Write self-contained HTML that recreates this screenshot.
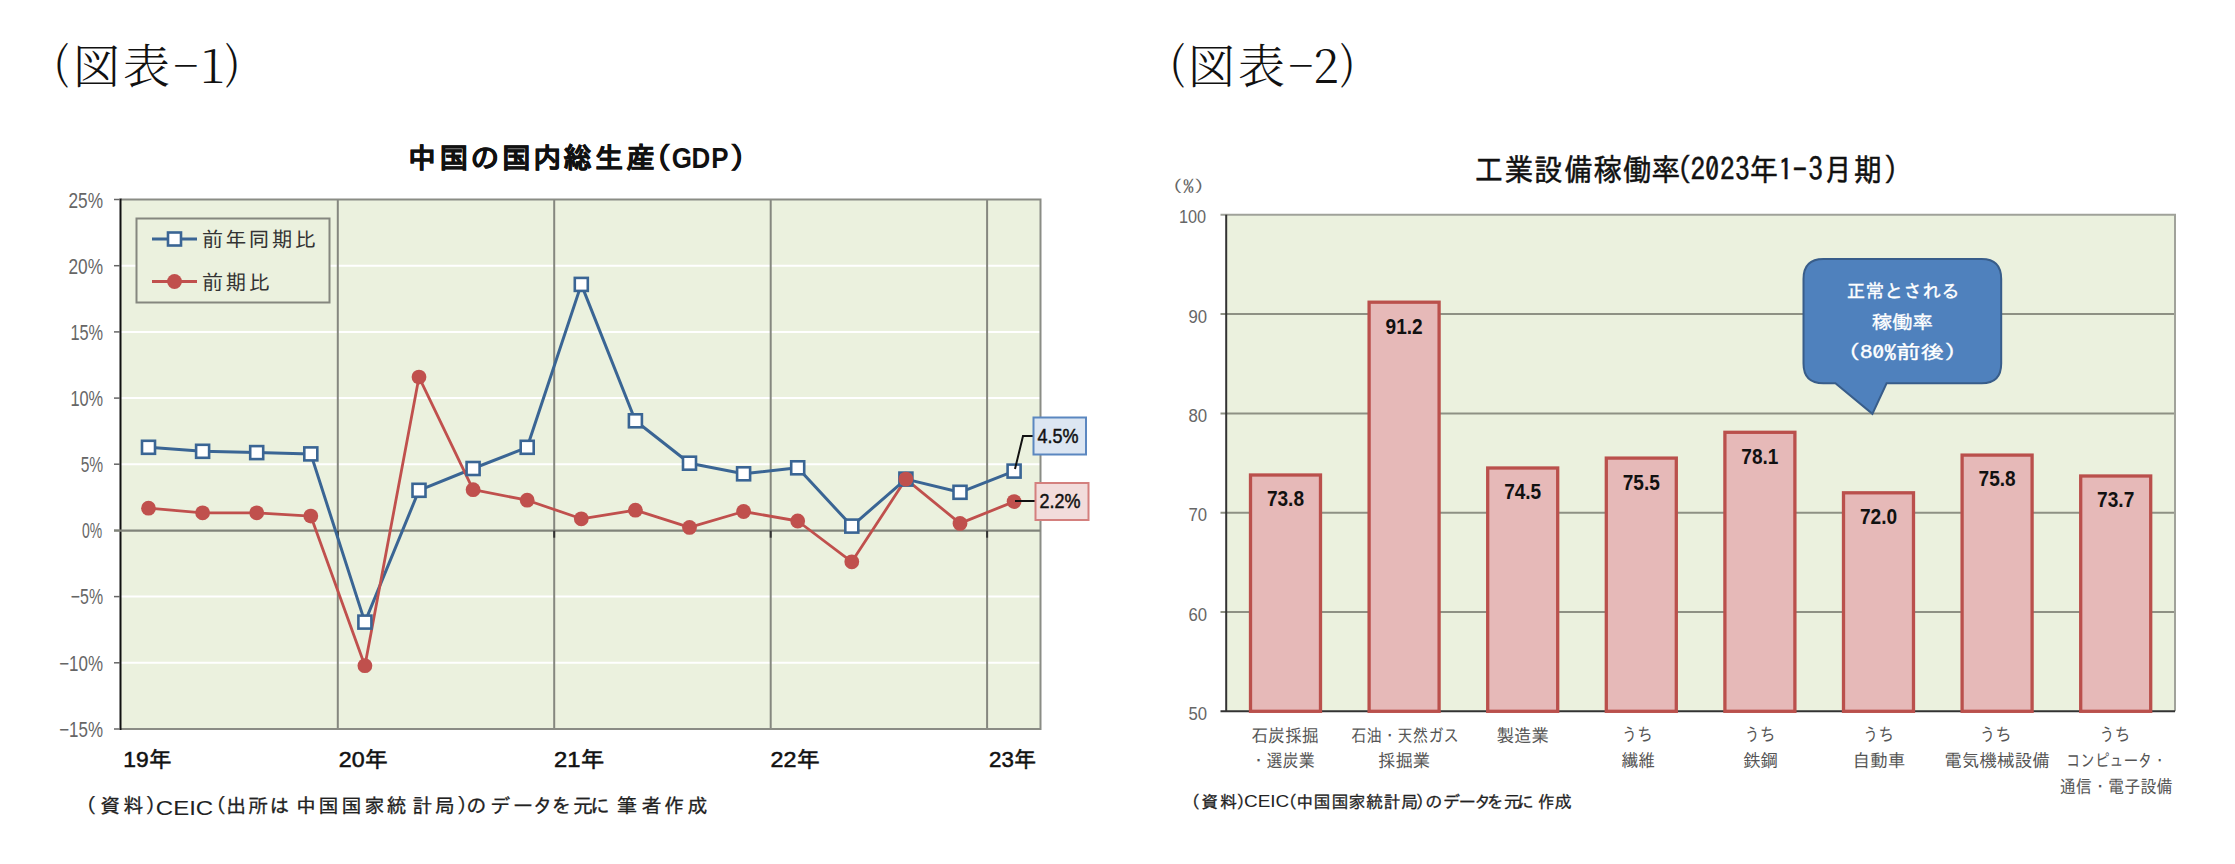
<!DOCTYPE html>
<html><head><meta charset="utf-8"><title>図表</title>
<style>html,body{margin:0;padding:0;background:#fff;}svg{display:block;}</style></head>
<body><svg width="2235" height="864" viewBox="0 0 2235 864" font-family="IPAGothic,'Noto Sans CJK JP',sans-serif">
<rect width="2235" height="864" fill="#fff"/>
<text x="53.6" y="78.4" font-family="'Noto Serif CJK JP','Noto Serif CJK SC',serif" font-size="43.4" font-weight="300" fill="#111" >(</text>
<text x="73.0 123.1" y="83" font-family="'Noto Serif CJK JP','Noto Serif CJK SC',serif" font-size="47" font-weight="300" fill="#111" >図表</text>
<text x="173.4" y="81.3" font-family="'Noto Serif CJK JP','Noto Serif CJK SC',serif" font-size="43" font-weight="300" fill="#111" >−</text>
<text x="200.0" y="83.3" font-family="'Noto Serif CJK JP','Noto Serif CJK SC',serif" font-size="46.7" font-weight="300" fill="#111" >1</text>
<text x="224.9" y="78.4" font-family="'Noto Serif CJK JP','Noto Serif CJK SC',serif" font-size="43.4" font-weight="300" fill="#111" >)</text>
<text x="1169.5" y="78.4" font-family="'Noto Serif CJK JP','Noto Serif CJK SC',serif" font-size="43.4" font-weight="300" fill="#111" >(</text>
<text x="1188.0 1238.1" y="83" font-family="'Noto Serif CJK JP','Noto Serif CJK SC',serif" font-size="47" font-weight="300" fill="#111" >図表</text>
<text x="1288.4" y="81.3" font-family="'Noto Serif CJK JP','Noto Serif CJK SC',serif" font-size="43" font-weight="300" fill="#111" >−</text>
<text x="1313.5" y="83.3" font-family="'Noto Serif CJK JP','Noto Serif CJK SC',serif" font-size="47" font-weight="300" fill="#111" >2</text>
<text x="1339.9" y="78.4" font-family="'Noto Serif CJK JP','Noto Serif CJK SC',serif" font-size="43.4" font-weight="300" fill="#111" >)</text>
<rect x="121.0" y="199.5" width="919.5" height="529.5" fill="#EBF1DE"/>
<line x1="121.0" y1="265.7" x2="1040.5" y2="265.7" stroke="#fff" stroke-width="2"/>
<line x1="121.0" y1="331.9" x2="1040.5" y2="331.9" stroke="#fff" stroke-width="2"/>
<line x1="121.0" y1="398.1" x2="1040.5" y2="398.1" stroke="#fff" stroke-width="2"/>
<line x1="121.0" y1="464.2" x2="1040.5" y2="464.2" stroke="#fff" stroke-width="2"/>
<line x1="121.0" y1="596.6" x2="1040.5" y2="596.6" stroke="#fff" stroke-width="2"/>
<line x1="121.0" y1="662.8" x2="1040.5" y2="662.8" stroke="#fff" stroke-width="2"/>
<line x1="337.8" y1="199.5" x2="337.8" y2="729.0" stroke="#85877f" stroke-width="2"/>
<line x1="554.2" y1="199.5" x2="554.2" y2="729.0" stroke="#85877f" stroke-width="2"/>
<line x1="770.7" y1="199.5" x2="770.7" y2="729.0" stroke="#85877f" stroke-width="2"/>
<line x1="987.1" y1="199.5" x2="987.1" y2="729.0" stroke="#85877f" stroke-width="2"/>
<path d="M121.0 199.5H1040.5V729.0H121.0" fill="none" stroke="#8a8c85" stroke-width="2"/>
<line x1="120.5" y1="198.5" x2="120.5" y2="730.0" stroke="#111" stroke-width="2"/>
<line x1="114" y1="199.5" x2="120" y2="199.5" stroke="#666" stroke-width="1.5"/>
<line x1="114" y1="265.7" x2="120" y2="265.7" stroke="#666" stroke-width="1.5"/>
<line x1="114" y1="331.9" x2="120" y2="331.9" stroke="#666" stroke-width="1.5"/>
<line x1="114" y1="398.1" x2="120" y2="398.1" stroke="#666" stroke-width="1.5"/>
<line x1="114" y1="464.2" x2="120" y2="464.2" stroke="#666" stroke-width="1.5"/>
<line x1="114" y1="530.4" x2="120" y2="530.4" stroke="#666" stroke-width="1.5"/>
<line x1="114" y1="596.6" x2="120" y2="596.6" stroke="#666" stroke-width="1.5"/>
<line x1="114" y1="662.8" x2="120" y2="662.8" stroke="#666" stroke-width="1.5"/>
<line x1="114" y1="729.0" x2="120" y2="729.0" stroke="#666" stroke-width="1.5"/>
<line x1="114" y1="530.7" x2="1040.5" y2="530.7" stroke="#80837a" stroke-width="2.2"/>
<line x1="337.8" y1="530.7" x2="337.8" y2="537.7" stroke="#333" stroke-width="2"/>
<line x1="554.2" y1="530.7" x2="554.2" y2="537.7" stroke="#333" stroke-width="2"/>
<line x1="770.7" y1="530.7" x2="770.7" y2="537.7" stroke="#333" stroke-width="2"/>
<line x1="987.1" y1="530.7" x2="987.1" y2="537.7" stroke="#333" stroke-width="2"/>
<text x="103.03" y="207.50" font-size="22" fill="#666" text-anchor="end" font-family="'Liberation Sans',IPAGothic,sans-serif" textLength="34.52" lengthAdjust="spacingAndGlyphs" >25%</text>
<text x="103.03" y="273.51" font-size="22" fill="#666" text-anchor="end" font-family="'Liberation Sans',IPAGothic,sans-serif" textLength="34.52" lengthAdjust="spacingAndGlyphs" >20%</text>
<text x="103.12" y="339.53" font-size="22" fill="#666" text-anchor="end" font-family="'Liberation Sans',IPAGothic,sans-serif" textLength="32.74" lengthAdjust="spacingAndGlyphs" >15%</text>
<text x="103.12" y="406.24" font-size="22" fill="#666" text-anchor="end" font-family="'Liberation Sans',IPAGothic,sans-serif" textLength="32.74" lengthAdjust="spacingAndGlyphs" >10%</text>
<text x="103.12" y="472.25" font-size="22" fill="#666" text-anchor="end" font-family="'Liberation Sans',IPAGothic,sans-serif" textLength="22.48" lengthAdjust="spacingAndGlyphs" >5%</text>
<text x="102.13" y="538.26" font-size="22" fill="#666" text-anchor="end" font-family="'Liberation Sans',IPAGothic,sans-serif" textLength="20.15" lengthAdjust="spacingAndGlyphs" >0%</text>
<text x="103.05" y="604.27" font-size="22" fill="#666" text-anchor="end" font-family="'Liberation Sans',IPAGothic,sans-serif" textLength="32.25" lengthAdjust="spacingAndGlyphs" >−5%</text>
<text x="103.05" y="670.99" font-size="22" fill="#666" text-anchor="end" font-family="'Liberation Sans',IPAGothic,sans-serif" textLength="43.82" lengthAdjust="spacingAndGlyphs" >−10%</text>
<text x="103.05" y="737.00" font-size="22" fill="#666" text-anchor="end" font-family="'Liberation Sans',IPAGothic,sans-serif" textLength="43.82" lengthAdjust="spacingAndGlyphs" >−15%</text>
<polyline points="148.5,447.3 202.6,451.3 256.7,452.6 310.8,453.9 364.9,622.1 419.0,490.3 473.1,468.5 527.2,447.3 581.3,284.4 635.4,420.8 689.5,463.2 743.6,473.8 797.7,467.8 851.8,526.1 905.9,479.1 960.0,492.3 1014.1,471.1" fill="none" stroke="#3A6594" stroke-width="3" stroke-linejoin="round"/>
<polyline points="148.5,508.2 202.6,512.8 256.7,512.8 310.8,516.1 364.9,665.7 419.0,377.1 473.1,489.7 527.2,500.2 581.3,518.8 635.4,510.2 689.5,527.4 743.6,511.5 797.7,521.0 851.8,561.8 905.9,479.1 960.0,523.4 1014.1,501.6" fill="none" stroke="#C0504D" stroke-width="2.8" stroke-linejoin="round"/>
<rect x="142.0" y="440.8" width="13" height="13" fill="#fff" stroke="#3A6594" stroke-width="2.6"/>
<rect x="196.1" y="444.8" width="13" height="13" fill="#fff" stroke="#3A6594" stroke-width="2.6"/>
<rect x="250.2" y="446.1" width="13" height="13" fill="#fff" stroke="#3A6594" stroke-width="2.6"/>
<rect x="304.3" y="447.4" width="13" height="13" fill="#fff" stroke="#3A6594" stroke-width="2.6"/>
<rect x="358.4" y="615.6" width="13" height="13" fill="#fff" stroke="#3A6594" stroke-width="2.6"/>
<rect x="412.5" y="483.8" width="13" height="13" fill="#fff" stroke="#3A6594" stroke-width="2.6"/>
<rect x="466.6" y="462.0" width="13" height="13" fill="#fff" stroke="#3A6594" stroke-width="2.6"/>
<rect x="520.7" y="440.8" width="13" height="13" fill="#fff" stroke="#3A6594" stroke-width="2.6"/>
<rect x="574.8" y="277.9" width="13" height="13" fill="#fff" stroke="#3A6594" stroke-width="2.6"/>
<rect x="628.9" y="414.3" width="13" height="13" fill="#fff" stroke="#3A6594" stroke-width="2.6"/>
<rect x="683.0" y="456.7" width="13" height="13" fill="#fff" stroke="#3A6594" stroke-width="2.6"/>
<rect x="737.1" y="467.3" width="13" height="13" fill="#fff" stroke="#3A6594" stroke-width="2.6"/>
<rect x="791.2" y="461.3" width="13" height="13" fill="#fff" stroke="#3A6594" stroke-width="2.6"/>
<rect x="845.3" y="519.6" width="13" height="13" fill="#fff" stroke="#3A6594" stroke-width="2.6"/>
<rect x="899.4" y="472.6" width="13" height="13" fill="#fff" stroke="#3A6594" stroke-width="2.6"/>
<rect x="953.5" y="485.8" width="13" height="13" fill="#fff" stroke="#3A6594" stroke-width="2.6"/>
<rect x="1007.6" y="464.6" width="13" height="13" fill="#fff" stroke="#3A6594" stroke-width="2.6"/>
<circle cx="148.5" cy="508.2" r="7.4" fill="#C0504D"/>
<circle cx="202.6" cy="512.8" r="7.4" fill="#C0504D"/>
<circle cx="256.7" cy="512.8" r="7.4" fill="#C0504D"/>
<circle cx="310.8" cy="516.1" r="7.4" fill="#C0504D"/>
<circle cx="364.9" cy="665.7" r="7.4" fill="#C0504D"/>
<circle cx="419.0" cy="377.1" r="7.4" fill="#C0504D"/>
<circle cx="473.1" cy="489.7" r="7.4" fill="#C0504D"/>
<circle cx="527.2" cy="500.2" r="7.4" fill="#C0504D"/>
<circle cx="581.3" cy="518.8" r="7.4" fill="#C0504D"/>
<circle cx="635.4" cy="510.2" r="7.4" fill="#C0504D"/>
<circle cx="689.5" cy="527.4" r="7.4" fill="#C0504D"/>
<circle cx="743.6" cy="511.5" r="7.4" fill="#C0504D"/>
<circle cx="797.7" cy="521.0" r="7.4" fill="#C0504D"/>
<circle cx="851.8" cy="561.8" r="7.4" fill="#C0504D"/>
<circle cx="905.9" cy="479.1" r="7.4" fill="#C0504D"/>
<circle cx="960.0" cy="523.4" r="7.4" fill="#C0504D"/>
<circle cx="1014.1" cy="501.6" r="7.4" fill="#C0504D"/>
<rect x="136.5" y="218.5" width="193" height="84" fill="#EBF1DE" stroke="#85877f" stroke-width="2"/>
<line x1="152" y1="239" x2="197" y2="239" stroke="#3A6594" stroke-width="3"/>
<rect x="168" y="232.5" width="13" height="13" fill="#fff" stroke="#3A6594" stroke-width="2.6"/>
<line x1="152" y1="281.5" x2="197" y2="281.5" stroke="#C0504D" stroke-width="2.8"/>
<circle cx="174.5" cy="281.5" r="7.4" fill="#C0504D"/>
<text x="201.99" y="247.30" font-size="21" fill="#333" textLength="114.03" lengthAdjust="spacing" >前年同期比</text>
<text x="201.97" y="289.80" font-size="21" fill="#333" textLength="68.06" lengthAdjust="spacing" >前期比</text>
<path d="M1015 469 L1023 436 H1033" fill="none" stroke="#111" stroke-width="2"/>
<rect x="1033.5" y="417.5" width="52.5" height="37" fill="#DCE6F2" stroke="#5B87C0" stroke-width="2"/>
<text x="1037.51" y="442.80" font-size="21" fill="#111" font-family="'Liberation Sans',IPAGothic,sans-serif" textLength="41.02" lengthAdjust="spacingAndGlyphs" stroke="#111" stroke-width="0.5">4.5%</text>
<line x1="1015" y1="501" x2="1035" y2="501" stroke="#111" stroke-width="2"/>
<rect x="1035.5" y="483" width="53" height="37" fill="#F2DCDB" stroke="#D4807E" stroke-width="2"/>
<text x="1039.51" y="508.30" font-size="21" fill="#111" font-family="'Liberation Sans',IPAGothic,sans-serif" textLength="41.02" lengthAdjust="spacingAndGlyphs" stroke="#111" stroke-width="0.5">2.2%</text>
<text x="123.36" y="767.00" font-size="22" fill="#111" font-family="'Liberation Sans',IPAGothic,sans-serif" textLength="48.16" lengthAdjust="spacingAndGlyphs" stroke="#111" stroke-width="0.5">19年</text>
<text x="338.75" y="767.00" font-size="22" fill="#111" font-family="'Liberation Sans',IPAGothic,sans-serif" textLength="49.14" lengthAdjust="spacingAndGlyphs" stroke="#111" stroke-width="0.5">20年</text>
<text x="554.14" y="767.00" font-size="22" fill="#111" font-family="'Liberation Sans',IPAGothic,sans-serif" textLength="50.17" lengthAdjust="spacingAndGlyphs" stroke="#111" stroke-width="0.5">21年</text>
<text x="770.54" y="767.00" font-size="22" fill="#111" font-family="'Liberation Sans',IPAGothic,sans-serif" textLength="49.14" lengthAdjust="spacingAndGlyphs" stroke="#111" stroke-width="0.5">22年</text>
<text x="988.99" y="767.00" font-size="22" fill="#111" font-family="'Liberation Sans',IPAGothic,sans-serif" textLength="47.13" lengthAdjust="spacingAndGlyphs" stroke="#111" stroke-width="0.5">23年</text>
<text x="407.6 439.5 470.5 501.9 533.2 563.3 595.1 626.3 642.2" y="167.9" font-family="IPAGothic,'Noto Sans CJK JP',sans-serif" font-size="28.5" font-weight="bold" fill="#111" stroke="#111" stroke-width="0.4">中国の国内総生産（</text>
<text x="763.4 785.8 808.3" y="168.3" font-family="'Liberation Sans',IPAGothic,sans-serif" font-size="29.5" font-weight="bold" fill="#111" transform="scale(0.88 1)" >GDP</text>
<text x="730.5" y="167.9" font-family="IPAGothic,'Noto Sans CJK JP',sans-serif" font-size="28.5" font-weight="bold" fill="#111" stroke="#111" stroke-width="0.4">）</text>
<text x="76.3 100.2 123.4 145.6" y="813.3" font-family="IPAGothic,'Noto Sans CJK JP',sans-serif" font-size="20" fill="#222" stroke="#222" stroke-width="0.3">（資料）</text>
<text x="155.77" y="814.70" font-size="19.5" fill="#222" font-family="'Liberation Sans',IPAGothic,sans-serif" textLength="57.46" lengthAdjust="spacingAndGlyphs" >CEIC</text>
<text x="205.9 225.9 248.0 269.6 296.1 318.5 341.5 364.4 386.8 412.3 434.8 457.0 466.3 490.2 513.1 532.7 551.2 573.3 590.0 617.1 641.5 664.1 687.5" y="813.3" font-family="IPAGothic,'Noto Sans CJK JP',sans-serif" font-size="20" fill="#222" stroke="#222" stroke-width="0.3">（出所は中国国家統計局）のデータを元に筆者作成</text>
<rect x="1226.2" y="214.8" width="948.8" height="496.49999999999994" fill="#EBF1DE"/>
<line x1="1220.5" y1="612.0" x2="2175.0" y2="612.0" stroke="#8e9184" stroke-width="2"/>
<line x1="1220.5" y1="512.7" x2="2175.0" y2="512.7" stroke="#8e9184" stroke-width="2"/>
<line x1="1220.5" y1="413.4" x2="2175.0" y2="413.4" stroke="#8e9184" stroke-width="2"/>
<line x1="1220.5" y1="314.1" x2="2175.0" y2="314.1" stroke="#8e9184" stroke-width="2"/>
<path d="M1220.5 214.8 H2175.0 V711.3" fill="none" stroke="#a0a29a" stroke-width="2"/>
<line x1="1226.2" y1="214.8" x2="1226.2" y2="711.3" stroke="#333" stroke-width="2"/>
<line x1="1220.5" y1="711.3" x2="2175.0" y2="711.3" stroke="#333" stroke-width="2"/>
<text x="1207.06" y="719.80" font-size="18" fill="#666" text-anchor="end" font-family="'Liberation Sans',IPAGothic,sans-serif" textLength="18.59" lengthAdjust="spacingAndGlyphs" >50</text>
<text x="1207.06" y="620.50" font-size="18" fill="#666" text-anchor="end" font-family="'Liberation Sans',IPAGothic,sans-serif" textLength="18.59" lengthAdjust="spacingAndGlyphs" >60</text>
<text x="1207.06" y="520.50" font-size="18" fill="#666" text-anchor="end" font-family="'Liberation Sans',IPAGothic,sans-serif" textLength="18.59" lengthAdjust="spacingAndGlyphs" >70</text>
<text x="1207.15" y="421.90" font-size="18" fill="#666" text-anchor="end" font-family="'Liberation Sans',IPAGothic,sans-serif" textLength="18.72" lengthAdjust="spacingAndGlyphs" >80</text>
<text x="1207.06" y="322.60" font-size="18" fill="#666" text-anchor="end" font-family="'Liberation Sans',IPAGothic,sans-serif" textLength="18.59" lengthAdjust="spacingAndGlyphs" >90</text>
<text x="1206.06" y="223.30" font-size="18" fill="#666" text-anchor="end" font-family="'Liberation Sans',IPAGothic,sans-serif" textLength="27.18" lengthAdjust="spacingAndGlyphs" >100</text>
<text x="1172.14" y="191.80" font-size="16" fill="#666" textLength="32.62" lengthAdjust="spacingAndGlyphs" >(%)</text>
<rect x="1250.5" y="475.0" width="70" height="236.3" fill="#E6B9B8" stroke="#BA504C" stroke-width="3.3"/>
<text x="1285.48" y="506.22" font-size="22" fill="#111" text-anchor="middle" font-weight="bold" font-family="'Liberation Sans',IPAGothic,sans-serif" textLength="37.15" lengthAdjust="spacingAndGlyphs" >73.8</text>
<rect x="1369.1" y="302.2" width="70" height="409.1" fill="#E6B9B8" stroke="#BA504C" stroke-width="3.3"/>
<text x="1404.11" y="333.68" font-size="22" fill="#111" text-anchor="middle" font-weight="bold" font-family="'Liberation Sans',IPAGothic,sans-serif" textLength="37.07" lengthAdjust="spacingAndGlyphs" >91.2</text>
<rect x="1487.7" y="468.0" width="70" height="243.3" fill="#E6B9B8" stroke="#BA504C" stroke-width="3.3"/>
<text x="1522.68" y="499.25" font-size="22" fill="#111" text-anchor="middle" font-weight="bold" font-family="'Liberation Sans',IPAGothic,sans-serif" textLength="37.07" lengthAdjust="spacingAndGlyphs" >74.5</text>
<rect x="1606.3" y="458.1" width="70" height="253.2" fill="#E6B9B8" stroke="#BA504C" stroke-width="3.3"/>
<text x="1641.32" y="489.60" font-size="22" fill="#111" text-anchor="middle" font-weight="bold" font-family="'Liberation Sans',IPAGothic,sans-serif" textLength="37.07" lengthAdjust="spacingAndGlyphs" >75.5</text>
<rect x="1724.9" y="432.3" width="70" height="279.0" fill="#E6B9B8" stroke="#BA504C" stroke-width="3.3"/>
<text x="1759.87" y="463.53" font-size="22" fill="#111" text-anchor="middle" font-weight="bold" font-family="'Liberation Sans',IPAGothic,sans-serif" textLength="37.07" lengthAdjust="spacingAndGlyphs" >78.1</text>
<rect x="1843.5" y="492.8" width="70" height="218.5" fill="#E6B9B8" stroke="#BA504C" stroke-width="3.3"/>
<text x="1878.51" y="524.42" font-size="22" fill="#111" text-anchor="middle" font-weight="bold" font-family="'Liberation Sans',IPAGothic,sans-serif" textLength="37.18" lengthAdjust="spacingAndGlyphs" >72.0</text>
<rect x="1962.1" y="455.1" width="70" height="256.2" fill="#E6B9B8" stroke="#BA504C" stroke-width="3.3"/>
<text x="1997.11" y="486.21" font-size="22" fill="#111" text-anchor="middle" font-weight="bold" font-family="'Liberation Sans',IPAGothic,sans-serif" textLength="37.07" lengthAdjust="spacingAndGlyphs" >75.8</text>
<rect x="2080.7" y="476.0" width="70" height="235.3" fill="#E6B9B8" stroke="#BA504C" stroke-width="3.3"/>
<text x="2115.69" y="507.11" font-size="22" fill="#111" text-anchor="middle" font-weight="bold" font-family="'Liberation Sans',IPAGothic,sans-serif" textLength="37.15" lengthAdjust="spacingAndGlyphs" >73.7</text>
<text x="1285.00" y="742.00" font-size="18" fill="#555" text-anchor="middle" textLength="67.47" lengthAdjust="spacingAndGlyphs" >石炭採掘</text>
<text x="1282.61" y="767.00" font-size="18" fill="#555" text-anchor="middle" textLength="64.16" lengthAdjust="spacingAndGlyphs" >・選炭業</text>
<text x="1405.05" y="742.00" font-size="18" fill="#555" text-anchor="middle" textLength="108.02" lengthAdjust="spacingAndGlyphs" >石油・天然ガス</text>
<text x="1404.10" y="767.00" font-size="18" fill="#555" text-anchor="middle" textLength="52.01" lengthAdjust="spacingAndGlyphs" >採掘業</text>
<text x="1522.71" y="742.00" font-size="18" fill="#555" text-anchor="middle" textLength="52.04" lengthAdjust="spacingAndGlyphs" >製造業</text>
<text x="1637.32" y="741.30" font-size="18" fill="#555" text-anchor="middle" textLength="31.04" lengthAdjust="spacingAndGlyphs" >うち</text>
<text x="1638.30" y="767.00" font-size="18" fill="#555" text-anchor="middle" textLength="33.39" lengthAdjust="spacingAndGlyphs" >繊維</text>
<text x="1759.96" y="741.30" font-size="18" fill="#555" text-anchor="middle" textLength="30.85" lengthAdjust="spacingAndGlyphs" >うち</text>
<text x="1760.38" y="767.00" font-size="18" fill="#555" text-anchor="middle" textLength="34.51" lengthAdjust="spacingAndGlyphs" >鉄鋼</text>
<text x="1878.54" y="741.30" font-size="18" fill="#555" text-anchor="middle" textLength="30.94" lengthAdjust="spacingAndGlyphs" >うち</text>
<text x="1878.95" y="767.00" font-size="18" fill="#555" text-anchor="middle" textLength="53.15" lengthAdjust="spacingAndGlyphs" >自動車</text>
<text x="1995.61" y="741.30" font-size="18" fill="#555" text-anchor="middle" textLength="32.24" lengthAdjust="spacingAndGlyphs" >うち</text>
<text x="1997.08" y="767.00" font-size="18" fill="#555" text-anchor="middle" textLength="105.78" lengthAdjust="spacingAndGlyphs" >電気機械設備</text>
<text x="2114.74" y="741.30" font-size="18" fill="#555" text-anchor="middle" textLength="31.03" lengthAdjust="spacingAndGlyphs" >うち</text>
<text x="2116.56" y="767.00" font-size="18" fill="#555" text-anchor="middle" textLength="100.66" lengthAdjust="spacingAndGlyphs" >コンピュータ・</text>
<text x="2116.21" y="792.70" font-size="18" fill="#555" text-anchor="middle" textLength="113.14" lengthAdjust="spacingAndGlyphs" >通信・電子設備</text>
<path d="M1823.4 259 H1981.7 Q2001.2 259 2001.2 279 V363.5 Q2001.2 383.3 1981.7 383.3 H1886.6 L1872.4 413.8 L1835.4 383.3 H1823.4 Q1803.5 383.3 1803.5 363.5 V279 Q1803.5 259 1823.4 259 Z" fill="#4F81BD" stroke="#385D8A" stroke-width="2"/>
<text x="1903.33" y="298.20" font-size="19" fill="#fff" text-anchor="middle" textLength="113.21" lengthAdjust="spacingAndGlyphs" stroke="#fff" stroke-width="0.35">正常とされる</text>
<text x="1902.29" y="328.50" font-size="19" fill="#fff" text-anchor="middle" textLength="61.14" lengthAdjust="spacingAndGlyphs" stroke="#fff" stroke-width="0.35">稼働率</text>
<text x="1902.33" y="359.20" font-size="19" fill="#fff" text-anchor="middle" textLength="131.97" lengthAdjust="spacingAndGlyphs" stroke="#fff" stroke-width="0.35">（80%前後）</text>
<text x="1603.0 1635.6 1667.5 1700.1 1732.1 1764.2 1795.3 1823.1 1837.9 1853.4 1869.9 1886.1 1901.6 1933.2 1948.7 1965.7 1982.5 2015.0 2047.6" y="180.6" font-family="IPAGothic,'Noto Sans CJK JP',sans-serif" font-size="31" fill="#111" transform="scale(0.92 1)" stroke="#111" stroke-width="0.5">工業設備稼働率(2023年1-3月期)</text>
<text x="1183.0 1201.3 1220.0 1236.4" y="807.6" font-family="IPAGothic,'Noto Sans CJK JP',sans-serif" font-size="17" fill="#222" stroke="#222" stroke-width="0.3">（資料）</text>
<text x="1243.97" y="807.46" font-size="16.5" fill="#222" font-family="'Liberation Sans',IPAGothic,sans-serif" textLength="45.27" lengthAdjust="spacingAndGlyphs" >CEIC</text>
<text x="1280.0 1296.2 1313.5 1331.4 1348.6 1365.9 1383.4 1401.1 1415.7 1425.3 1443.0 1458.7 1474.3 1486.4 1503.7 1517.0 1537.7 1554.8" y="807.6" font-family="IPAGothic,'Noto Sans CJK JP',sans-serif" font-size="17" fill="#222" stroke="#222" stroke-width="0.3">（中国国家統計局）のデータを元に作成</text>
</svg></body></html>
